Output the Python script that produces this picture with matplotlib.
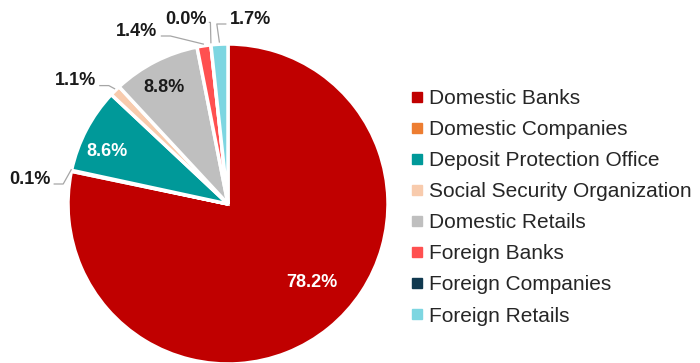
import numpy as np
import matplotlib
matplotlib.use("Agg")
import matplotlib.pyplot as plt
from matplotlib.lines import Line2D

# holder groups, clockwise from 12 o'clock
holders = [
    "Domestic Banks",
    "Domestic Companies",
    "Deposit Protection Office",
    "Social Security Organization",
    "Domestic Retails",
    "Foreign Banks",
    "Foreign Companies",
    "Foreign Retails",
]
shares = [78.2, 0.1, 8.6, 1.1, 8.8, 1.4, 0.0, 1.7]
colors = ["#C00000", "#ED7D31", "#009999", "#F8CBAD",
          "#BFBFBF", "#FF5050", "#10394F", "#7DD6E1"]

# where each percentage sits (pie units); the small wedges get a leader line
label_xy = [(0.525, -0.49), (-1.24, 0.155), (-0.755, 0.33), (-0.955, 0.77),
            (-0.40, 0.725), (-0.57, 1.08), (-0.26, 1.155), (0.14, 1.155)]
label_color = ["white", "#1a1a1a", "white", "#1a1a1a",
               "#1a1a1a", "#1a1a1a", "#1a1a1a", "#1a1a1a"]
with_leader = [False, True, False, True, False, True, True, True]

plt.rcParams["font.family"] = ["Liberation Sans", "DejaVu Sans"]

fig = plt.figure(figsize=(7.0, 3.63), dpi=100)
ax = fig.add_axes([68 / 700, -1 / 363, 320 / 700, 320 / 363])

wedges, _ = ax.pie(
    shares, colors=colors, startangle=90, counterclock=False,
    wedgeprops=dict(edgecolor="white", linewidth=2.5),
)
ax.set_xlim(-1, 1)
ax.set_ylim(-1, 1)
ax.set_aspect("equal")
ax.axis("off")

for i, (w, v) in enumerate(zip(wedges, shares)):
    tx, ty = label_xy[i]
    ax.text(tx, ty, f"{v:.1f}%", ha="center", va="center", color=label_color[i],
            fontsize=13, fontweight="bold")
    if not with_leader[i]:
        continue
    mid = np.deg2rad((w.theta1 + w.theta2) / 2)
    ex, ey = np.cos(mid), np.sin(mid)
    # short horizontal stub beside the label, then down to the wedge edge
    side = 1 if ex > tx else -1
    sx = tx + side * 0.15
    kx = sx + side * 0.06
    ky = ty - 0.03
    if i == 6:
        sx, kx, ky = tx + 0.14, tx + 0.15, ty - 0.02
    ax.plot([sx, kx, ex], [ky, ky, ey + 0.01], color="#A6A6A6", lw=0.9,
            solid_capstyle="butt", clip_on=False)

handles = [Line2D([], [], marker="s", ls="none", markersize=6.5,
                  markerfacecolor=c, markeredgecolor=c) for c in colors]
fig.legend(handles, holders, loc="upper left",
           bbox_to_anchor=(411 / 700, 1 - 89 / 363),
           frameon=False, fontsize=15, handlelength=0.6, handletextpad=0.25,
           labelspacing=0.58, borderaxespad=0, borderpad=0,
           labelcolor="#262626")

fig.savefig("out.png", dpi=100)
